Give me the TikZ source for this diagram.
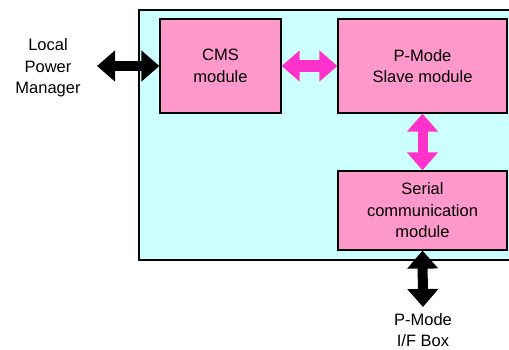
\documentclass[tikz,border=0pt]{standalone}
\usepackage{fontspec}
\setmainfont{Liberation Sans}
\usetikzlibrary{arrows.meta}
\definecolor{panel}{HTML}{CCFFFF}
\definecolor{modfill}{HTML}{FF99CC}
\definecolor{linkpink}{HTML}{FF33CC}
\tikzset{
  module/.style={draw=black, line width=1.2pt, fill=modfill, inner sep=0pt,
    align=center, font=\fontsize{16.5}{21.5}\selectfont},
  label/.style={align=center, inner sep=0pt, font=\fontsize{16.5}{21.5}\selectfont},
  fatlink/.style={line width=10pt,
    {Triangle[width=30pt,length=18pt]}-{Triangle[width=30pt,length=18pt]}},
}
\begin{document}
\begin{tikzpicture}[x=1pt, y=-1pt]
\useasboundingbox (0,0) rectangle (509,350);
% enclosing panel
\draw[line width=1.5pt, fill=panel] (139,10) rectangle (515,260);
% modules
\node[module, minimum width=121pt, minimum height=94pt] (cms) at (220.5,66) {CMS\\module};
\node[module, minimum width=169pt, minimum height=94pt] (slave) at (422.5,66) {P-Mode\\Slave module};
\node[module, minimum width=169pt, minimum height=79pt] (serial) at (422.5,210.5) {Serial\\communication\\module};
% external parties
\node[label] (lpm) at (48,68) {Local\\Power\\Manager};
\node[label] (pif) at (423,330) {P-Mode\\I/F Box};
\coordinate (lpmend) at (97,66);
\coordinate (pifend) at (423,307);
% links
\draw[fatlink, black] (lpmend) -- (cms.west);
\draw[fatlink, linkpink, line width=12pt] (cms.east) -- (slave.west);
\draw[fatlink, linkpink] (slave.south) -- (serial.north);
\draw[fatlink, black] (serial.south) -- (pifend);
\end{tikzpicture}
\end{document}
